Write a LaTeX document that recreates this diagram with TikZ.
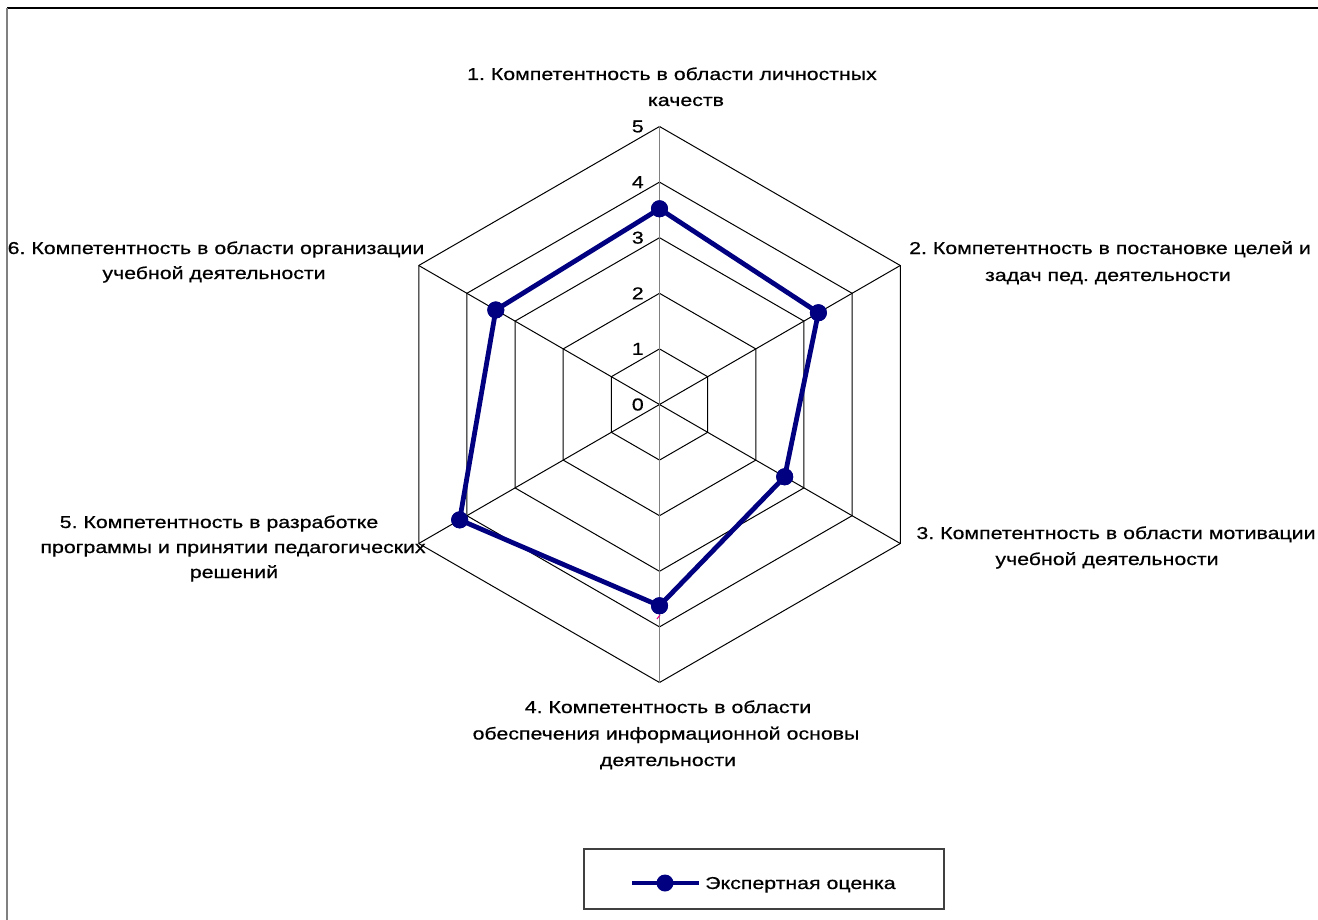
\documentclass[tikz,border=0pt]{standalone}
\usepackage{fontspec}
\setmainfont{Liberation Sans}[FakeStretch=1.24,FakeBold=0.6]
\frenchspacing
\definecolor{navy}{RGB}{0,0,128}
\definecolor{axisgray}{RGB}{128,128,128}
\begin{document}
\begin{tikzpicture}[x=0.75pt,y=-0.75pt,
  gridline/.style={draw=black,line width=0.75pt},
  axisline/.style={draw=axisgray,line width=1.1pt},
  series/.style={draw=navy,line width=3.6pt,line join=round},
  marker/.style={circle,fill=navy,draw=none,inner sep=0pt,minimum size=12.75pt},
  lbl/.style={anchor=base,inner sep=0pt,font=\fontsize{12.9}{19.7}\selectfont},
  lvl/.style={anchor=east,inner sep=0pt,font=\fontsize{12.9}{15}\selectfont}]
\useasboundingbox (0,0) rectangle (1318,920);
\fill[white] (0,0) rectangle (1318,920);
% frame
\draw[black,line width=0.9pt] (7,8) -- (1318,8);
\draw[axisgray,line width=1.2pt] (7,8) -- (7,920);
\def\cx{659.5}
\def\cy{404.5}
\def\u{55.6}
% hexagon grid
\foreach \l in {1,...,5}{
  \draw[gridline] ({\cx},{\cy-\u*\l}) -- ({\cx+0.8660*\u*\l},{\cy-0.5*\u*\l})
    -- ({\cx+0.8660*\u*\l},{\cy+0.5*\u*\l}) -- ({\cx},{\cy+\u*\l})
    -- ({\cx-0.8660*\u*\l},{\cy+0.5*\u*\l}) -- ({\cx-0.8660*\u*\l},{\cy-0.5*\u*\l}) -- cycle;
}
% spokes
\foreach \a in {30,150,210,330}{
  \draw[gridline] (\cx,\cy) -- ({\cx+5*\u*cos(\a)},{\cy-5*\u*sin(\a)});
}
\draw[axisline] (\cx,{\cy-5*\u}) -- (\cx,{\cy+5*\u});
% level labels
\foreach \l in {0,...,5}{
  \node[lvl] (lv\l) at (644,{\cy-\u*\l}) {\l};
}
% data
\node[marker] (p1) at ({\cx},{\cy-\u*3.52}) {};
\node[marker] (p2) at ({\cx+0.8660*\u*3.3},{\cy-0.5*\u*3.3}) {};
\node[marker] (p3) at ({\cx+0.8660*\u*2.6},{\cy+0.5*\u*2.6}) {};
\node[marker] (p4) at ({\cx},{\cy+\u*3.62}) {};
\node[marker] (p5) at ({\cx-0.8660*\u*4.15},{\cy+0.5*\u*4.15}) {};
\node[marker] (p6) at ({\cx-0.8660*\u*3.4},{\cy-0.5*\u*3.4}) {};
\draw[series] (p1.center) -- (p2.center) -- (p3.center) -- (p4.center) -- (p5.center) -- (p6.center) -- cycle;
\foreach \p in {p1,p2,p3,p4,p5,p6}{ \fill[navy] (\p) circle (6.4pt); }
\draw[magenta,line width=0.8pt] (657,619) -- (660,615);
% axis labels
\node[lbl] (l1a) at (672,80) {1. Компетентность в области личностных};
\node[lbl] (l1b) at (686,106) {качеств};
\node[lbl] (l2a) at (1110,254) {2. Компетентность в постановке целей и};
\node[lbl] (l2b) at (1108,281) {задач пед. деятельности};
\node[lbl] (l3a) at (1116,539) {3. Компетентность в области мотивации};
\node[lbl] (l3b) at (1107,565) {учебной деятельности};
\node[lbl] (l4a) at (668,713) {4. Компетентность в области};
\node[lbl] (l4b) at (666,739.5) {обеспечения информационной основы};
\node[lbl] (l4c) at (668,766) {деятельности};
\node[lbl] (l5a) at (219,528) {5. Компетентность в разработке};
\node[lbl] (l5b) at (233,553) {программы и принятии педагогических};
\node[lbl] (l5c) at (234,578) {решений};
\node[lbl] (l6a) at (216,254) {6. Компетентность в области организации};
\node[lbl] (l6b) at (214,279) {учебной деятельности};
% legend
\node[draw=black!75,line width=0.9pt,minimum width=270pt,minimum height=45pt,inner sep=0pt] (leg) at (764,879) {};
\coordinate (ls) at (632,883);
\coordinate (le) at (699,883);
\draw[series] (ls) -- (le);
\node[marker] (lm) at (665,883) {};
\node[lbl,anchor=base west] (lt) at (705,889) {Экспертная оценка};
\end{tikzpicture}
\end{document}
